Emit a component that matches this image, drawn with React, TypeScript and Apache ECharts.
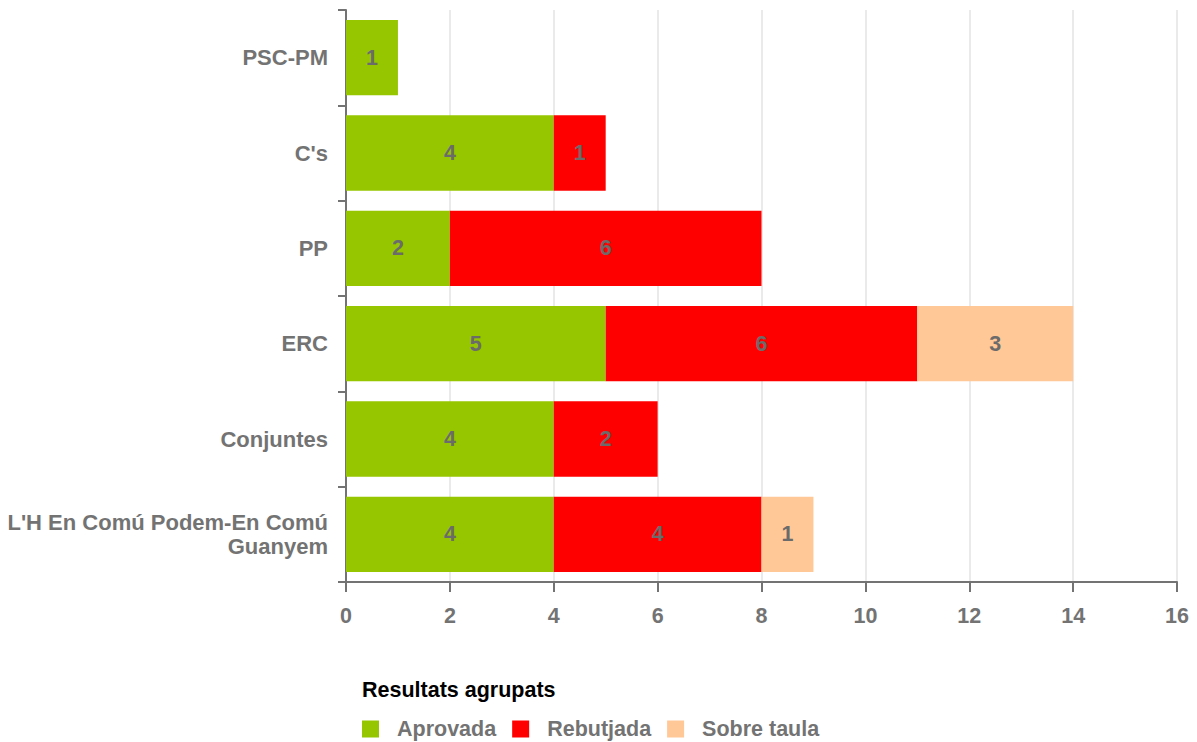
import React, { useEffect, useRef } from "react";
import * as echarts from "echarts";

const categories = ["PSC-PM", "C's", "PP", "ERC", "Conjuntes", "L'H En Comú Podem-En Comú\nGuanyem"];
const aprovada = [1, 4, 2, 5, 4, 4];
const rebutjada = [null, 1, 6, 6, 2, 4];
const sobreTaula = [null, null, null, 3, null, 1];
const xTicks = { min: 0, max: 16, interval: 2 };

const gray = "#737373";
const font = "Liberation Sans, Arial, sans-serif";
const fs = 21.5;

export default function App() {
  const ref = useRef<HTMLDivElement>(null);
  useEffect(() => {
    const chart = echarts.init(ref.current!, null, { renderer: "svg" });
    const labelCfg = {
      show: true,
      position: "inside",
      color: "#6b6b6b",
      fontWeight: "bold",
      fontSize: fs,
      fontFamily: font,
    };
    chart.setOption({
      animation: false,
      title: {
        text: "Resultats agrupats",
        left: 357,
        top: 674,
        textStyle: { color: "#000", fontWeight: "bold", fontSize: fs, fontFamily: font },
      },
      legend: {
        left: 357,
        top: 713,
        itemWidth: 17,
        itemHeight: 17,
        itemGap: 16,
        icon: "rect",
        textStyle: { color: gray, fontWeight: "bold", fontSize: fs, lineHeight: 22, fontFamily: font, padding: [0, 0, 0, 13] },
        data: ["Aprovada", "Rebutjada", "Sobre taula"],
      },
      grid: { left: 346, right: 20, top: 10, bottom: 160, containLabel: false },
      xAxis: {
        type: "value",
        min: xTicks.min,
        max: xTicks.max,
        interval: xTicks.interval,
        axisLine: { show: true, lineStyle: { color: gray, width: 2 } },
        axisTick: { show: true, length: 10, lineStyle: { color: gray, width: 2 } },
        axisLabel: { color: gray, fontWeight: "bold", fontSize: fs, fontFamily: font, margin: 23 },
        splitLine: { show: true, lineStyle: { color: "#e3e3e3", width: 1.5 } },
      },
      yAxis: {
        type: "category",
        data: categories,
        inverse: true,
        axisLine: { show: true, lineStyle: { color: gray, width: 2 } },
        axisTick: { show: true, length: 8, lineStyle: { color: gray, width: 2 } },
        axisLabel: { color: gray, fontWeight: "bold", fontSize: 22, fontFamily: font, margin: 18, lineHeight: 24 },
      },
      series: [
        { name: "Aprovada", type: "bar", stack: "t", data: aprovada, itemStyle: { color: "#95c600" }, barCategoryGap: "21%", label: labelCfg },
        { name: "Rebutjada", type: "bar", stack: "t", data: rebutjada, itemStyle: { color: "#ff0000" }, label: labelCfg },
        { name: "Sobre taula", type: "bar", stack: "t", data: sobreTaula, itemStyle: { color: "#ffc896" }, label: labelCfg },
      ],
    });
    return () => chart.dispose();
  }, []);
  return <div ref={ref} style={{ width: 1197, height: 742, position: "absolute", left: 0, top: 0 }} />;
}
